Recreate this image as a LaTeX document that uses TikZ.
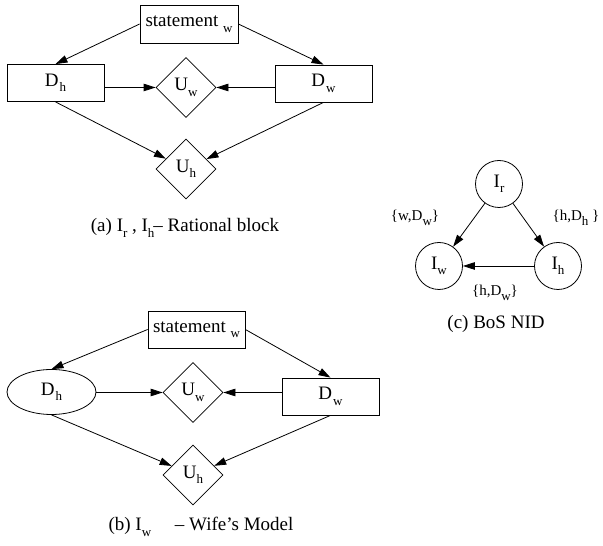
\documentclass[tikz,border=0pt]{standalone}
\usepackage{fontspec}
\setmainfont{Liberation Serif}
\usetikzlibrary{positioning,arrows.meta,shapes.geometric}

\newcommand{\lowsub}[1]{\raisebox{-5.5pt}{\fontsize{13}{13}\selectfont #1}}

\begin{document}
\begin{tikzpicture}[
	x=1pt, y=1pt,
	font=\fontsize{19}{22}\selectfont,
	>={Triangle[length=12pt,width=7.5pt]},
	box/.style={draw, line width=0.8pt, minimum width=97pt, minimum height=37pt, inner sep=0pt},
	oval/.style={draw, ellipse, line width=0.8pt, minimum width=89pt, minimum height=45pt, inner sep=0pt},
	util/.style={draw, diamond, line width=0.8pt, minimum width=60pt, minimum height=60pt, inner sep=0pt},
	agent/.style={draw, circle, line width=0.8pt, minimum size=47pt, inner sep=0pt},
	capt/.style={font=\fontsize{19}{22}\selectfont},
	lbl/.style={font=\fontsize{15}{17}\selectfont},
	flow/.style={->, line width=0.8pt},
]
\useasboundingbox (0,0) rectangle (603,546);

% ---- (a) rational block ----
\node[box, minimum width=98pt, minimum height=38pt] (stA) at (189,522) {statement \lowsub{w}};
\node[box] (dhA) at (55.5,463) {D\kern1pt\lowsub{h}};
\node[box] (dwA) at (323.5,462.5) {D\kern1pt\lowsub{w}};
\node[util] (uwA) at (186,458.5) {U\lowsub{w}};
\node[util] (uhA) at (186,377) {U\lowsub{h}};
\node[capt] (capA) at (185,318) {(a) I\lowsub{r} , I\lowsub{h}\kern-1pt-- Rational block};

\draw[flow] (stA.west) -- (dhA.north);
\draw[flow] (stA.east) -- (dwA.north);
\draw[flow] (dhA.east |- uwA) -- (uwA.west);
\draw[flow] (dwA.west |- uwA) -- (uwA.east);
\draw[flow] (dhA.south) -- (uhA);
\draw[flow] (dwA.south) -- (uhA);

% ---- (b) wife's model ----
\node[box] (stB) at (196.5,216.5) {statement \lowsub{w}};
\node[oval] (dhB) at (51.5,154) {D\kern1pt\lowsub{h}};
\node[box] (dwB) at (330.5,149.5) {D\kern1pt\lowsub{w}};
\node[util] (uwB) at (193,153.5) {U\lowsub{w}};
\node[util] (uhB) at (193,71) {U\lowsub{h}};
\node[capt] (capB) at (201,19) {(b) I\lowsub{w} \quad-- Wife's Model};

\draw[flow] (stB.west) -- (dhB.north);
\draw[flow] (stB.east) -- (dwB.north);
\draw[flow] (dhB.east |- uwB) -- (uwB.west);
\draw[flow] (dwB.west |- uwB) -- (uwB.east);
\draw[flow] (dhB.south) -- (uhB);
\draw[flow] (dwB.south) -- (uhB);

% ---- (c) BoS NID ----
\node[agent] (ir) at (499,362) {I\lowsub{r}};
\node[agent] (iw) at (439,280) {I\lowsub{w}};
\node[agent] (ih) at (558,280) {I\lowsub{h}};

\draw[flow] (ir) -- (iw);
\draw[flow] (ir) -- (ih);
\draw[flow] (ih) -- (iw);

\node[lbl] (lwd) at (415,328) {\{w,D\lowsub{w}\}};
\node[lbl] (lhd) at (576,328) {\{h,D\lowsub{h} \}};
\node[lbl] (lhw) at (495,253) {\{h,D\lowsub{w}\}};
\node[capt] (capC) at (496,222) {(c) BoS NID};

\end{tikzpicture}
\end{document}
